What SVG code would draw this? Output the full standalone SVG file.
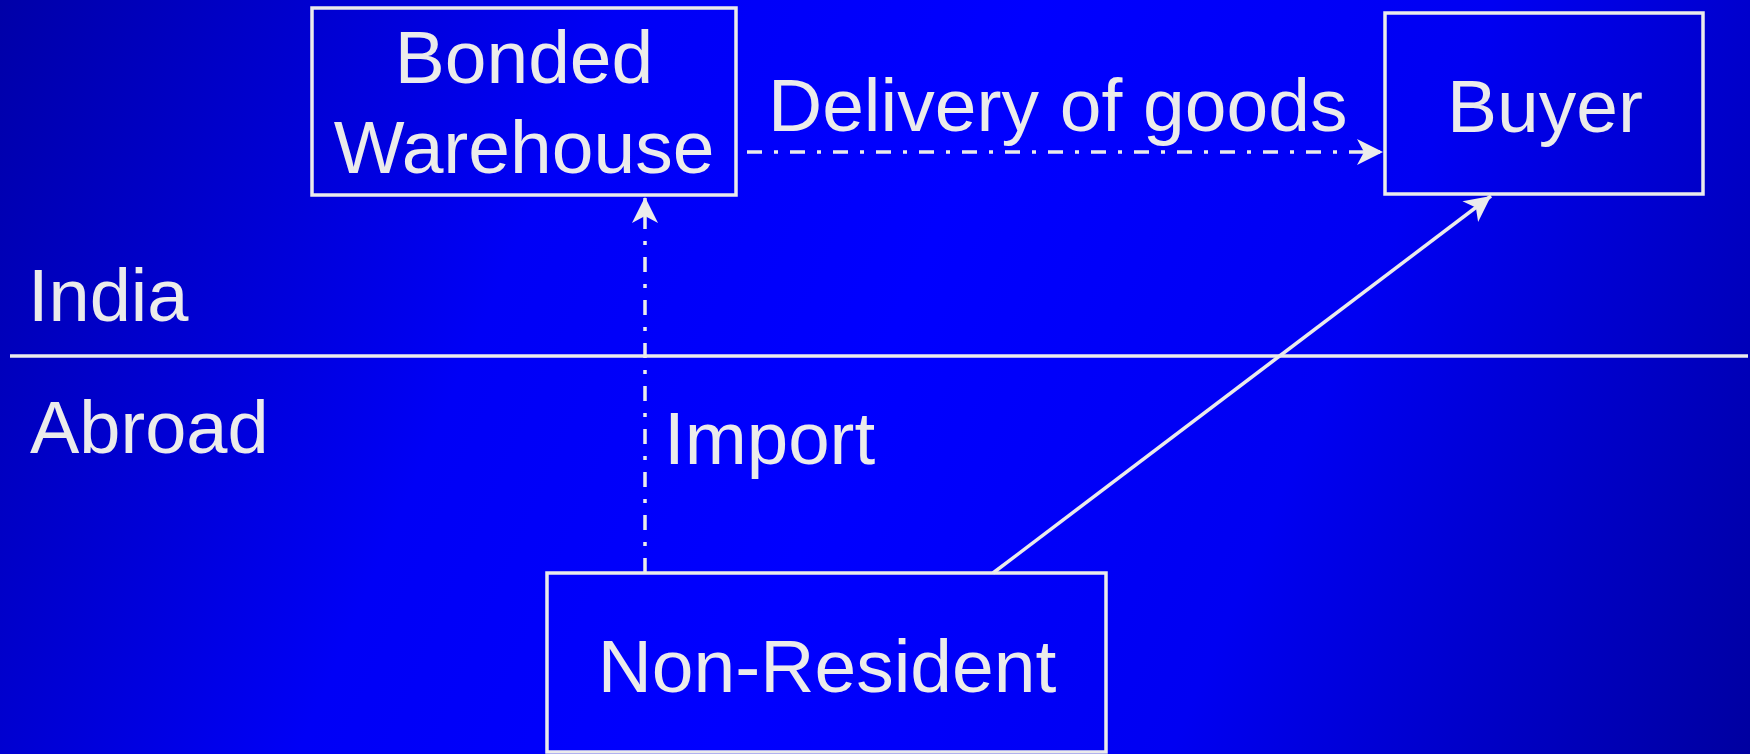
<svg xmlns="http://www.w3.org/2000/svg" width="1750" height="754" viewBox="0 0 1750 754">
  <defs>
    <linearGradient id="bg" gradientUnits="userSpaceOnUse" x1="0" y1="0" x2="1750" y2="754">
      <stop offset="0" stop-color="#0000a8"/>
      <stop offset="0.3" stop-color="#0000f6"/>
      <stop offset="0.5" stop-color="#0000ff"/>
      <stop offset="0.72" stop-color="#0000f2"/>
      <stop offset="1" stop-color="#0000a0"/>
    </linearGradient>
    <marker id="stealth" markerUnits="userSpaceOnUse" markerWidth="30" markerHeight="30" viewBox="-28 -15 30 30" refX="0" refY="0" orient="auto">
      <path d="M0,0 L-26,-13 L-19,0 L-26,13 Z" fill="#ebebeb"/>
    </marker>
    <style>
      .box { fill: none; stroke: #ebebeb; stroke-width: 3.5; }
      .lbl { font-family: "Liberation Sans", Arial, sans-serif; fill: #ebebeb; font-size: 75px; }
      .mid { text-anchor: middle; }
      .conn { fill: none; stroke: #ebebeb; stroke-width: 3.5; }
      .dashdot { stroke-dasharray: 15 12 4 12; }
    </style>
  </defs>
  <rect x="0" y="0" width="1750" height="754" fill="url(#bg)"/>

  <g id="divider">
    <line x1="10" y1="356" x2="1748" y2="356" stroke="#ebebeb" stroke-width="3.5"/>
    <text class="lbl" x="28" y="321" style="font-size:74px">India</text>
    <text class="lbl" x="30" y="453" style="font-size:74px">Abroad</text>
  </g>

  <g id="bonded-warehouse">
    <rect class="box" x="312" y="8" width="424" height="187"/>
    <text class="lbl mid" x="524" y="83">Bonded</text>
    <text class="lbl mid" x="524" y="173">Warehouse</text>
  </g>

  <g id="buyer">
    <rect class="box" x="1385" y="13" width="318" height="181"/>
    <text class="lbl mid" x="1545" y="132">Buyer</text>
  </g>

  <g id="non-resident">
    <rect class="box" x="547" y="573" width="559" height="179"/>
    <text class="lbl mid" x="827" y="692">Non-Resident</text>
  </g>

  <g id="connectors">
    <path class="conn dashdot" d="M747,152 L1383,152" marker-end="url(#stealth)"/>
    <path class="conn dashdot" d="M645,573 L645,197" marker-end="url(#stealth)"/>
    <path class="conn" d="M993,573 L1491,196" marker-end="url(#stealth)"/>
    <text class="lbl" x="768" y="131">Delivery of goods</text>
    <text class="lbl" x="664" y="464" style="font-size:74.5px">Import</text>
  </g>
</svg>
